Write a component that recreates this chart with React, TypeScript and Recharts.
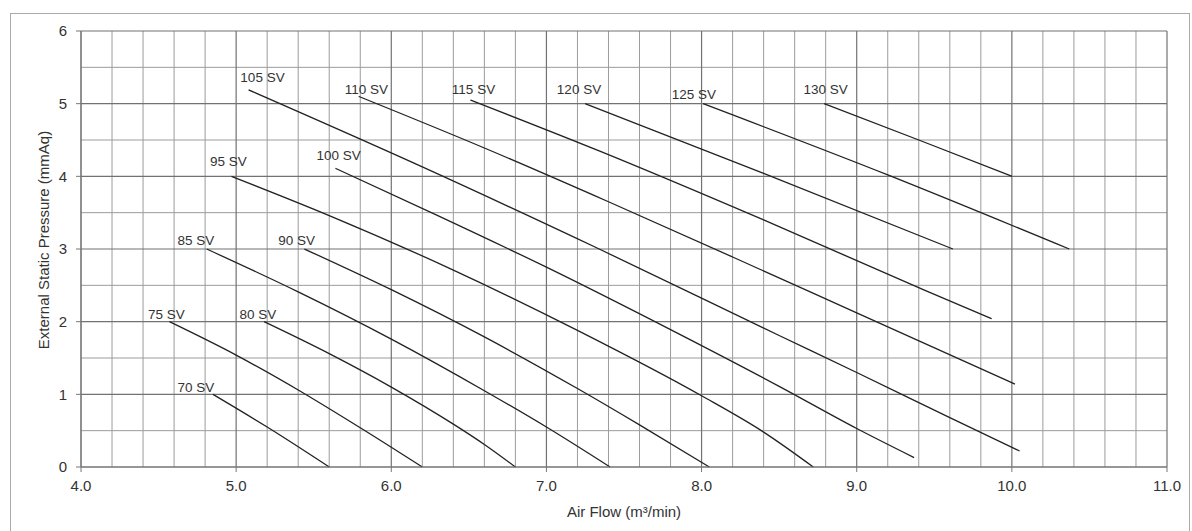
import React from 'react'
import { ComposedChart, Line, Scatter, XAxis, YAxis, ReferenceLine } from 'recharts'

const FONT = '"Liberation Sans", Arial, sans-serif'

// axis ticks and grid
const airflowTicks = [4, 5, 6, 7, 8, 9, 10, 11]
const pressureTicks = [0, 1, 2, 3, 4, 5, 6]
const minorAirflow = [
  4.2, 4.4, 4.6, 4.8, 5.2, 5.4, 5.6, 5.8, 6.2, 6.4, 6.6, 6.8, 7.2, 7.4, 7.6, 7.8,
  8.2, 8.4, 8.6, 8.8, 9.2, 9.4, 9.6, 9.8, 10.2, 10.4, 10.6, 10.8,
]
const minorPressure = [0.5, 1.5, 2.5, 3.5, 4.5, 5.5]

// fan curves: air flow (m3/min) vs external static pressure (mmAq)
const sv70 = [{ x: 4.85, y: 1.0 }, { x: 5.2, y: 0.55 }, { x: 5.6, y: 0 }]
const sv75 = [{ x: 4.57, y: 2.0 }, { x: 5.0, y: 1.54 }, { x: 5.4, y: 1.06 }, { x: 5.8, y: 0.54 }, { x: 6.2, y: 0 }]
const sv80 = [{ x: 5.18, y: 2.0 }, { x: 5.6, y: 1.56 }, { x: 6.0, y: 1.1 }, { x: 6.4, y: 0.59 }, { x: 6.6, y: 0.31 }, { x: 6.8, y: 0 }]
const sv85 = [{ x: 4.81, y: 3.0 }, { x: 5.4, y: 2.41 }, { x: 6.0, y: 1.76 }, { x: 6.6, y: 1.05 }, { x: 7.0, y: 0.55 }, { x: 7.41, y: 0 }]
const sv90 = [{ x: 5.44, y: 3.0 }, { x: 6.0, y: 2.44 }, { x: 6.6, y: 1.79 }, { x: 7.2, y: 1.08 }, { x: 7.6, y: 0.58 }, { x: 8.05, y: 0 }]
const sv95 = [{ x: 4.97, y: 4.0 }, { x: 5.6, y: 3.46 }, { x: 6.4, y: 2.71 }, { x: 7.2, y: 1.88 }, { x: 8.0, y: 0.98 }, { x: 8.4, y: 0.48 }, { x: 8.72, y: 0 }]
const sv100 = [{ x: 5.64, y: 4.11 }, { x: 6.3, y: 3.46 }, { x: 7.0, y: 2.75 }, { x: 7.8, y: 1.89 }, { x: 8.5, y: 1.11 }, { x: 9.0, y: 0.53 }, { x: 9.37, y: 0.13 }]
const sv105 = [{ x: 5.08, y: 5.19 }, { x: 6.2, y: 4.13 }, { x: 7.34, y: 3.0 }, { x: 8.5, y: 1.81 }, { x: 9.0, y: 1.3 }, { x: 9.6, y: 0.68 }, { x: 10.05, y: 0.22 }]
const sv110 = [{ x: 5.79, y: 5.1 }, { x: 6.6, y: 4.39 }, { x: 7.4, y: 3.65 }, { x: 8.2, y: 2.89 }, { x: 9.0, y: 2.12 }, { x: 10.02, y: 1.14 }]
const sv115 = [{ x: 6.51, y: 5.05 }, { x: 7.34, y: 4.35 }, { x: 8.4, y: 3.4 }, { x: 9.44, y: 2.43 }, { x: 9.87, y: 2.04 }]
const sv120 = [{ x: 7.25, y: 5.0 }, { x: 8.4, y: 4.04 }, { x: 9.62, y: 3.0 }]
const sv125 = [{ x: 8.01, y: 5.0 }, { x: 9.2, y: 4.02 }, { x: 10.37, y: 3.0 }]
const sv130 = [{ x: 8.79, y: 5.0 }, { x: 9.4, y: 4.5 }, { x: 10.0, y: 4.0 }]

const curves = [sv70, sv75, sv80, sv85, sv90, sv95, sv100, sv105, sv110, sv115, sv120, sv125, sv130]

// where each curve name sits
const curveLabels = [
  { x: 4.74, y: 1.1, name: '70 SV' },
  { x: 4.55, y: 2.1, name: '75 SV' },
  { x: 5.14, y: 2.1, name: '80 SV' },
  { x: 4.74, y: 3.12, name: '85 SV' },
  { x: 5.39, y: 3.12, name: '90 SV' },
  { x: 4.95, y: 4.21, name: '95 SV' },
  { x: 5.66, y: 4.28, name: '100 SV' },
  { x: 5.17, y: 5.36, name: '105 SV' },
  { x: 5.84, y: 5.2, name: '110 SV' },
  { x: 6.53, y: 5.2, name: '115 SV' },
  { x: 7.21, y: 5.2, name: '120 SV' },
  { x: 7.95, y: 5.13, name: '125 SV' },
  { x: 8.8, y: 5.2, name: '130 SV' },
]

const CurveName = (props: any) => (
  <text
    x={props.cx}
    y={props.cy}
    textAnchor="middle"
    dominantBaseline="central"
    fontFamily={FONT}
    fontSize={13.5}
    fill="#333"
  >
    {props.payload.name}
  </text>
)

const YTitle = () => (
  <text
    x={43}
    y={240}
    transform="rotate(-90 43 240)"
    textAnchor="middle"
    dominantBaseline="central"
    fontFamily={FONT}
    fontSize={15}
    fill="#333"
  >
    External Static Pressure (mmAq)
  </text>
)

const XTitle = () => (
  <text x={624} y={511} textAnchor="middle" dominantBaseline="central" fontFamily={FONT} fontSize={15} fill="#333">
    Air Flow (m³/min)
  </text>
)

export default function App() {
  return (
    <div style={{ position: 'absolute', left: 0, top: 0, width: 1192, height: 531, background: '#fff' }}>
      <div
        style={{
          position: 'absolute',
          left: 10,
          top: 13,
          width: 1178,
          height: 530,
          border: '1px solid #aaa',
        }}
      />
      <ComposedChart
        width={1192}
        height={531}
        margin={{ top: 31, right: 25, bottom: 0, left: 0 }}
        style={{ position: 'absolute', left: 0, top: 0 }}
      >
        <XAxis
          type="number"
          dataKey="x"
          domain={[4, 11]}
          ticks={airflowTicks}
          interval={0}
          height={64}
          tickFormatter={(v: number) => v.toFixed(1)}
          tick={{ fill: '#333', fontSize: 15, fontFamily: FONT }}
          tickSize={5}
          tickMargin={8}
          stroke="#777"
          label={<XTitle />}
        />
        <YAxis
          type="number"
          dataKey="y"
          domain={[0, 6]}
          ticks={pressureTicks}
          interval={0}
          width={81}
          tick={{ fill: '#333', fontSize: 15, fontFamily: FONT }}
          tickSize={5}
          tickMargin={9}
          stroke="#777"
          label={<YTitle />}
        />
        {minorAirflow.map((v) => (
          <ReferenceLine key={`mx${v}`} x={v} stroke="#9c9c9c" strokeWidth={1} />
        ))}
        {minorPressure.map((v) => (
          <ReferenceLine key={`my${v}`} y={v} stroke="#9c9c9c" strokeWidth={1} />
        ))}
        {airflowTicks.map((v) => (
          <ReferenceLine key={`x${v}`} x={v} stroke="#727272" strokeWidth={1.2} />
        ))}
        {pressureTicks.map((v) => (
          <ReferenceLine key={`y${v}`} y={v} stroke="#727272" strokeWidth={1.2} />
        ))}
        {curves.map((c, i) => (
          <Line
            key={i}
            data={c}
            dataKey="y"
            type="monotone"
            stroke="#222"
            strokeWidth={1.3}
            dot={false}
            activeDot={false}
            isAnimationActive={false}
          />
        ))}
        <Scatter data={curveLabels} dataKey="y" shape={CurveName} isAnimationActive={false} />
      </ComposedChart>
    </div>
  )
}
